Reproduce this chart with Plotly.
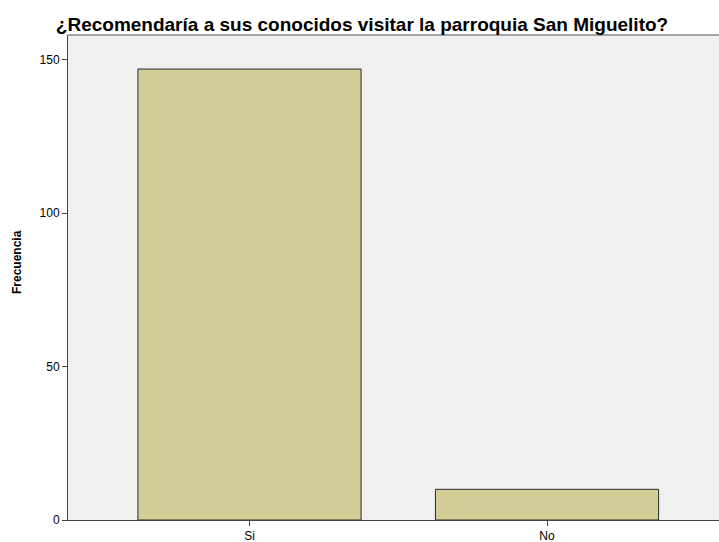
import plotly.graph_objects as go

categories = ["Si", "No"]
frequencies = [147, 10]
y_ticks = [0, 50, 100, 150]
title_text = "¿Recomendaría a sus conocidos visitar la parroquia San Miguelito?"
y_title = "Frecuencia"

fig = go.Figure()
fig.add_trace(go.Bar(
    x=[0, 1], y=frequencies, width=0.75,
    marker=dict(color="#D3CE97", line=dict(color="#2b2b2b", width=1)),
    hoverinfo="skip",
))

fig.update_layout(
    width=719, height=542,
    margin=dict(l=68, r=0, t=35, b=22),
    paper_bgcolor="white", plot_bgcolor="#F0F0F0",
    showlegend=False,
    font=dict(family="Arial, Liberation Sans, sans-serif", size=12, color="black"),
    title=dict(text="<b>" + title_text + "</b>", x=362 / 719, xanchor="center",
               y=1 - 24.5 / 542, yanchor="middle",
               font=dict(size=19, color="black")),
    xaxis=dict(range=[-0.61, 1.578], tickvals=[0, 1], ticktext=categories,
               showgrid=False, zeroline=False, showline=True, linecolor="#444444",
               linewidth=1, ticks="outside", ticklen=5, tickcolor="#444444",
               tickfont=dict(size=12)),
    yaxis=dict(range=[0, 158.1], tickvals=y_ticks, showgrid=False, zeroline=False,
               showline=True, linecolor="#444444", linewidth=1, ticks="outside",
               ticklen=5, tickcolor="#444444", tickfont=dict(size=12)),
    annotations=[dict(text="<b>" + y_title + "</b>", xref="paper", yref="paper",
                      x=(17 - 68) / 651, y=(520 - 262) / 485, xanchor="center",
                      yanchor="middle", textangle=-90, showarrow=False,
                      font=dict(size=12, color="black"))],
    shapes=[dict(type="line", xref="paper", yref="paper", x0=0, x1=1, y0=1, y1=1,
                 line=dict(color="#888888", width=1.5))],
)

fig.write_html("out.html", config={"displayModeBar": False},
               post_script="document.body.style.margin='0';")
